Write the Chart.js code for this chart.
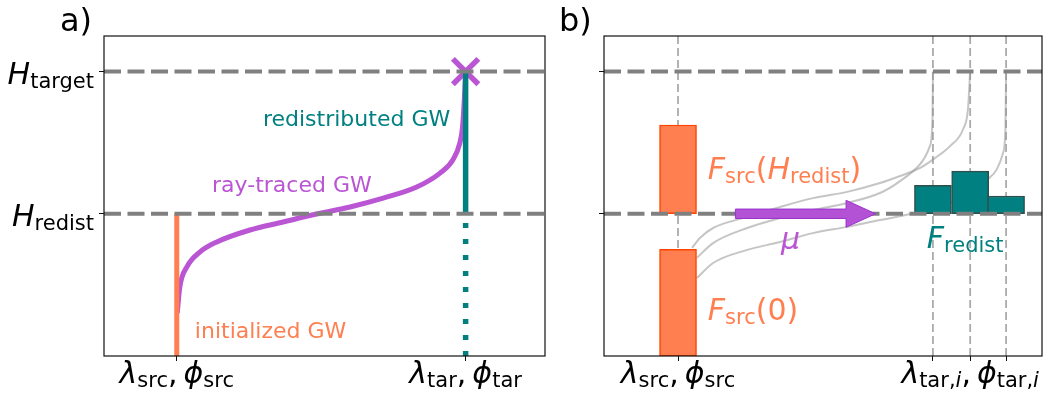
<!DOCTYPE html>
<html>
<head>
<meta charset="utf-8">
<script src="https://cdn.jsdelivr.net/npm/chart.js@4.4.0/dist/chart.umd.min.js"></script>
<style>
  html, body { margin: 0; padding: 0; background: #fff; }
  #wrap { position: relative; width: 1052px; height: 403px; }
  .panel { position: absolute; top: 0; }
  #panelA { left: 0; }
  #panelB { left: 550px; }
</style>
</head>
<body>
<div id="wrap">
  <div class="panel" id="panelA"><canvas id="chartA" width="550" height="403"></canvas></div>
  <div class="panel" id="panelB"><canvas id="chartB" width="502" height="403"></canvas></div>
</div>
<script>
// ---------- values ----------
const yMax = 1.125;
const levels = [0.5, 1.0];                 // H_redist, H_target

// panel a: one ray-traced wave from source to target column
const srcA = 1.65;
const tarA = 8.2;
const rayA_x = [1.66, 1.72, 1.88, 2.18, 2.56, 3.31, 4.06, 4.82, 5.58, 6.33, 7.09, 7.62, 7.91, 8.07, 8.13, 8.17, 8.2];
const rayA_y = [0.15, 0.243, 0.313, 0.366, 0.401, 0.443, 0.471, 0.499, 0.524, 0.555, 0.594, 0.643, 0.689, 0.749, 0.805, 0.9, 1.0];

// panel b: source flux, three rays, redistributed flux
const srcB = 1.69;
const tarB = [7.51, 8.36, 9.18];
const srcFlux = [[0, 0.375], [0.5, 0.812]];     // F_src(0), F_src(H_redist)
const redistFlux = [0.10, 0.15, 0.0625];        // F_redist above H_redist
const rayB_x = [
  [2.01, 2.19, 2.49, 3.27, 4.02, 4.77, 5.55, 6.30, 6.76, 7.22, 7.56, 7.90, 8.20, 8.31, 8.36],
  [2.12, 2.49, 3.27, 4.02, 4.77, 5.55, 6.30, 6.76, 7.22, 7.44, 7.50, 7.51],
  [2.12, 2.49, 3.27, 4.02, 4.77, 5.55, 6.30, 6.99, 7.90, 8.47, 8.77, 8.97, 9.11, 9.165, 9.18]
];
const rayB_y = [
  [0.380, 0.415, 0.450, 0.489, 0.524, 0.555, 0.577, 0.608, 0.633, 0.661, 0.696, 0.738, 0.798, 0.868, 1.0],
  [0.345, 0.397, 0.450, 0.485, 0.513, 0.538, 0.573, 0.615, 0.675, 0.738, 0.833, 1.0],
  [0.274, 0.327, 0.373, 0.401, 0.432, 0.454, 0.478, 0.499, 0.538, 0.580, 0.622, 0.657, 0.714, 0.798, 1.0]
];
const muArrow = [[3.0, 0.5], [6.2, 0.5]];

// tick labels as [text, style] runs: i = italic, n = upright, s = subscript, si = italic subscript
const yLabels = [
  [['H', 'i'], ['redist', 's']],
  [['H', 'i'], ['target', 's']]
];
const lblSrc = [['\u03BB', 'i'], ['src', 's'], [',', 'n'], ['\u2009', 'n'], ['\u03D5', 'i'], ['src', 's']];
const lblTar = [['\u03BB', 'i'], ['tar', 's'], [',', 'n'], ['\u2009', 'n'], ['\u03D5', 'i'], ['tar', 's']];
const lblTarI = [['\u03BB', 'i'], ['tar', 's'], [',', 's'], ['i', 'si'], [',', 'n'], ['\u2009', 'n'],
                 ['\u03D5', 'i'], ['tar', 's'], [',', 's'], ['i', 'si']];
const xTicksA = [srcA, tarA];
const xLabelsA = [lblSrc, lblTar];
const xTicksB = [srcB].concat(tarB);
const xLabelsB = [lblSrc, null, lblTarI, null];

// ---------- styling ----------
const FONT = '"DejaVu Sans", "Liberation Sans", sans-serif';
const GREY = '#808080';
const CORAL = '#FF7F50';
const TEAL = '#008080';
const ORCHID = '#BA55D3';

function drawMath(ctx, parts, x, y, size, color, align) {
  const sub = size * 0.7;
  const runs = parts.map(function(p) {
    const isSub = p[1][0] === 's';
    const it = p[1].indexOf('i') >= 0;
    const font = (it ? 'italic ' : '') + (isSub ? sub : size) + 'px ' + FONT;
    ctx.font = font;
    return { t: p[0], font: font, w: ctx.measureText(p[0]).width, dy: isSub ? size * 0.14 : 0 };
  });
  const total = runs.reduce(function(a, r) { return a + r.w; }, 0);
  let cx = align === 'right' ? x - total : align === 'center' ? x - total / 2 : x;
  ctx.fillStyle = color;
  ctx.textAlign = 'left';
  ctx.textBaseline = 'alphabetic';
  runs.forEach(function(r) {
    ctx.font = r.font;
    ctx.fillText(r.t, cx, y + r.dy);
    cx += r.w;
  });
}

function drawArrow(ctx, xs, ys, arrow) {
  const x1 = xs.getPixelForValue(arrow[0][0]);
  const x2 = xs.getPixelForValue(arrow[1][0]);
  const y = ys.getPixelForValue(arrow[0][1]);
  const shaft = 4.7, head = 13.5, xh = x2 - 29.5;
  ctx.beginPath();
  ctx.moveTo(x1, y - shaft);
  ctx.lineTo(xh, y - shaft);
  ctx.lineTo(xh, y - head);
  ctx.lineTo(x2, y);
  ctx.lineTo(xh, y + head);
  ctx.lineTo(xh, y + shaft);
  ctx.lineTo(x1, y + shaft);
  ctx.closePath();
  ctx.fillStyle = '#B452D6';
  ctx.fill();
  ctx.strokeStyle = '#9932CC';
  ctx.lineWidth = 1;
  ctx.stroke();
}

// frame, tick labels, notes and panel letter
function makeDecor(cfg) {
  return {
    id: 'decor',
    afterDatasetsDraw: function(chart) {
      const ctx = chart.ctx, xs = chart.scales.x, ys = chart.scales.y, area = chart.chartArea;
      ctx.save();
      if (cfg.arrow) drawArrow(ctx, xs, ys, cfg.arrow);
      cfg.notes.forEach(function(n) {
        drawMath(ctx, n.parts, xs.getPixelForValue(n.x), ys.getPixelForValue(n.y), n.size, n.color, n.align);
      });
      ctx.strokeStyle = '#111';
      ctx.lineWidth = 1.2;
      ctx.strokeRect(area.left, area.top, area.right - area.left, area.bottom - area.top);
      if (cfg.yLabels) {
        cfg.yLabels.forEach(function(lab, i) {
          drawMath(ctx, lab, area.left - 10, ys.getPixelForValue(levels[i]) + 12, 30, '#000', 'right');
        });
      }
      cfg.xTicks.forEach(function(v, i) {
        if (cfg.xLabels[i]) drawMath(ctx, cfg.xLabels[i], xs.getPixelForValue(v), area.bottom + 27, 30, '#000', 'center');
      });
      ctx.font = '32px ' + FONT;
      ctx.fillStyle = '#000';
      ctx.fillText(cfg.letter, area.left - cfg.letterOffset, 31);
      ctx.restore();
    }
  };
}

function scalesFor(xTicks, yWidth) {
  const grid = { drawOnChartArea: false, drawTicks: true, tickLength: 5, color: '#111', lineWidth: 1, offset: false };
  return {
    x: {
      type: 'linear', min: 0, max: 10, offset: false,
      afterBuildTicks: function(s) { s.ticks = xTicks.map(function(v) { return { value: v }; }); },
      afterFit: function(s) { s.height = 47; },
      ticks: { display: false },
      grid: grid,
      border: { display: false }
    },
    y: {
      type: 'linear', min: 0, max: yMax, offset: false,
      afterBuildTicks: function(s) { s.ticks = levels.map(function(v) { return { value: v }; }); },
      afterFit: function(s) { s.width = yWidth; },
      ticks: { display: false },
      grid: grid,
      border: { display: false }
    }
  };
}

function lineDs(pts, color, width, extra) {
  return Object.assign({
    type: 'line', data: pts, borderColor: color, borderWidth: width,
    pointRadius: 0, fill: false, tension: 0, borderCapStyle: 'butt'
  }, extra || {});
}

function levelLines() {
  return levels.map(function(h) {
    return lineDs([{ x: 0, y: h }, { x: 10, y: h }], GREY, 4, { borderDash: [17, 6.5], order: 1 });
  });
}

const baseOptions = {
  responsive: false,
  animation: false,
  events: [],
  plugins: { legend: { display: false }, tooltip: { enabled: false } }
};

// ---------- panel a ----------
new Chart(document.getElementById('chartA'), {
  type: 'line',
  data: {
    datasets: levelLines().concat([
      lineDs([{ x: srcA, y: 0 }, { x: srcA, y: levels[0] }], CORAL, 5, { order: 3 }),
      lineDs([{ x: tarA, y: levels[0] }, { x: tarA, y: levels[1] }], TEAL, 5.5, { order: 3 }),
      lineDs([{ x: tarA, y: 0 }, { x: tarA, y: levels[0] }], TEAL, 5.5, { borderDash: [5, 11], order: 3 }),
      lineDs(rayA_x.map(function(x, i) { return { x: x, y: rayA_y[i] }; }), ORCHID, 5,
             { cubicInterpolationMode: 'monotone', order: 5 }),
      {
        type: 'line', data: [{ x: tarA, y: levels[1] }], showLine: false,
        pointStyle: 'crossRot', pointRadius: 18, pointBorderWidth: 5.5,
        pointBorderColor: ORCHID, pointBackgroundColor: ORCHID, order: 4
      }
    ])
  },
  options: Object.assign({}, baseOptions, {
    layout: { autoPadding: false, padding: { left: 0, right: 5, top: 36, bottom: 0 } },
    scales: scalesFor(xTicksA, 104)
  }),
  plugins: [makeDecor({
    letter: 'a)', letterOffset: 44,
    yLabels: yLabels, xTicks: xTicksA, xLabels: xLabelsA,
    notes: [
      { parts: [['redistributed GW', 'n']], x: 7.85, y: 0.809, size: 22, color: TEAL, align: 'right' },
      { parts: [['ray-traced GW', 'n']], x: 2.45, y: 0.577, size: 22, color: ORCHID, align: 'left' },
      { parts: [['initialized GW', 'n']], x: 2.06, y: 0.063, size: 22, color: CORAL, align: 'left' }
    ]
  })]
});

// ---------- panel b ----------
new Chart(document.getElementById('chartB'), {
  type: 'line',
  data: {
    datasets: levelLines().concat(
      xTicksB.map(function(v) {
        return lineDs([{ x: v, y: 0 }, { x: v, y: yMax }], '#ababab', 1.8, { borderDash: [8, 4], order: 7 });
      }),
      rayB_x.map(function(xsRay, k) {
        return lineDs(xsRay.map(function(x, i) { return { x: x, y: rayB_y[k][i] }; }),
                      'rgba(150,150,150,0.55)', 2, { cubicInterpolationMode: 'monotone', order: 6 });
      }),
      [{
        type: 'bar', data: srcFlux.map(function(r) { return { x: srcB, y: r }; }),
        backgroundColor: CORAL, borderColor: '#FF4500', borderWidth: 1.5, borderSkipped: false,
        barThickness: 37, grouped: false, order: 2
      }, {
        type: 'bar', data: tarB.map(function(x, i) { return { x: x, y: [levels[0], levels[0] + redistFlux[i]] }; }),
        backgroundColor: TEAL, borderColor: '#2F4F4F', borderWidth: 1.5, borderSkipped: false,
        barThickness: 37, grouped: false, order: 2
      }]
    )
  },
  options: Object.assign({}, baseOptions, {
    layout: { autoPadding: false, padding: { left: 0, right: 10, top: 36, bottom: 0 } },
    scales: scalesFor(xTicksB, 54)
  }),
  plugins: [makeDecor({
    letter: 'b)', letterOffset: 45,
    yLabels: null, xTicks: xTicksB, xLabels: xLabelsB, arrow: muArrow,
    notes: [
      { parts: [['F', 'i'], ['src', 's'], ['(', 'n'], ['H', 'i'], ['redist', 's'], [')', 'n']],
        x: 2.37, y: 0.622, size: 30, color: CORAL, align: 'left' },
      { parts: [['F', 'i'], ['src', 's'], ['(0)', 'n']], x: 2.37, y: 0.127, size: 30, color: CORAL, align: 'left' },
      { parts: [['\u03BC', 'i']], x: 4.04, y: 0.376, size: 30, color: ORCHID, align: 'left' },
      { parts: [['F', 'i'], ['redist', 's']], x: 7.37, y: 0.38, size: 30, color: TEAL, align: 'left' }
    ]
  })]
});
</script>
</body>
</html>
